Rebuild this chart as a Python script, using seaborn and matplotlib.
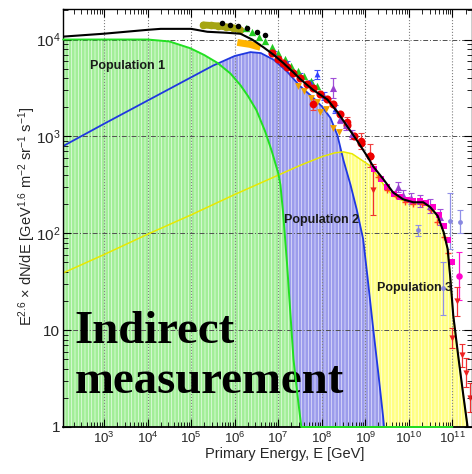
import numpy as np
import matplotlib
matplotlib.use("Agg")
import matplotlib.pyplot as plt
from matplotlib.ticker import LogLocator, FixedLocator, FuncFormatter, NullFormatter
import seaborn as sns

# ---- model populations: log10(E/GeV) and log10(E^2.6 dN/dE) ----
pop1_logE = [2.06, 3.0, 4.0, 4.5, 4.98, 5.3, 5.6, 5.9, 6.13, 6.3, 6.5, 6.7, 6.85,
             7.0, 7.05, 7.11, 7.2, 7.35, 7.45, 7.53, 8.0, 9.0, 10.0, 11.0]
pop1_logF = [4.00, 4.00, 4.00, 3.98, 3.91, 3.84, 3.76, 3.65, 3.53, 3.42, 3.27, 3.05, 2.85,
             2.62, 2.50, 2.22, 1.70, 0.70, 0.30, 0.0, 0.0, 0.0, 0.0, 0.0]

pop2_logE = [2.06, 3.0, 4.0, 5.0, 5.5, 6.0, 6.36, 6.6, 6.9, 7.2, 7.5, 7.8, 8.0, 8.2,
             8.36, 8.5, 8.66, 8.8, 8.95, 9.05, 9.18, 9.3, 9.41, 9.47]
pop2_logF = [2.90, 3.13, 3.37, 3.61, 3.73, 3.83, 3.87, 3.86, 3.79, 3.67, 3.52, 3.40, 3.31, 3.19,
             3.01, 2.75, 2.50, 2.25, 1.94, 1.55, 1.02, 0.55, 0.10, -0.2]

pop3_logE = [2.06, 3.0, 4.0, 5.0, 6.0, 7.0, 7.5, 8.0, 8.3, 8.5, 8.7, 8.9, 9.1, 9.3, 9.5,
             9.7, 9.9, 10.1, 10.3, 10.5, 10.66, 10.8, 10.89, 10.95, 11.02, 11.14, 11.25,
             11.34, 11.42]
pop3_logF = [1.59, 1.78, 1.99, 2.19, 2.40, 2.60, 2.70, 2.79, 2.83, 2.84, 2.82, 2.76, 2.70, 2.58, 2.45,
             2.37, 2.33, 2.31, 2.31, 2.27, 2.18, 2.01, 1.84, 1.55, 1.15, 0.71, 0.33,
             0.03, -0.3]

total_logE = [2.06, 3.0, 4.0, 4.3, 5.0, 5.37, 5.8, 6.13, 6.4, 6.66, 6.9, 7.11, 7.35, 7.51,
              7.8, 8.13, 8.36, 8.59, 8.82, 9.05, 9.18, 9.41, 9.64, 9.87, 10.1, 10.33, 10.49,
              10.66, 10.8, 10.89, 10.95, 11.02, 11.14, 11.25, 11.34, 11.42]
total_logF = [4.03, 4.06, 4.10, 4.11, 4.11, 4.08, 4.07, 4.06, 4.00, 3.92, 3.84, 3.76, 3.66, 3.59,
              3.48, 3.38, 3.25, 3.10, 2.95, 2.79, 2.69, 2.56, 2.42, 2.35, 2.32, 2.32, 2.27,
              2.18, 2.01, 1.84, 1.55, 1.15, 0.71, 0.33, 0.03, -0.3]

# ---- measurements ----
olive_logE = [5.28, 5.45, 5.62, 5.80, 5.97, 6.13]
olive_logF = [4.15, 4.145, 4.14, 4.13, 4.12, 4.10]

gold_logE = [6.06, 6.2, 6.35, 6.5, 6.59]
gold_logF = [3.97, 3.96, 3.95, 3.93, 3.92]

black_logE = [5.71, 5.90, 6.08, 6.29, 6.52, 6.70]
black_logF = [4.17, 4.15, 4.14, 4.12, 4.08, 4.05]

greentri_logE = [6.25, 6.4, 6.55, 6.7, 6.85, 7.0, 7.15, 7.3, 7.45, 7.6, 7.75, 7.9]
greentri_logF = [4.12, 4.08, 4.03, 3.98, 3.92, 3.86, 3.80, 3.73, 3.67, 3.62, 3.57, 3.52]

red_logE = [6.85, 7.0, 7.12, 7.21, 7.35, 7.51, 7.65, 7.80, 7.95, 8.13, 8.26, 8.43, 8.59,
            8.75, 8.89, 9.11]
red_logF = [3.86, 3.80, 3.76, 3.72, 3.65, 3.60, 3.54, 3.50, 3.44, 3.39, 3.33, 3.23, 3.12,
            3.00, 2.93, 2.80]

redbar_logE = [7.80, 8.59, 8.89, 9.11]
redbar_logF = [3.33, 3.15, 2.95, 2.80]
redbar_err = [0.06, 0.05, 0.08, 0.12]

blue_logE = [6.9, 7.2, 7.5, 7.75, 7.9, 8.05, 8.3]
blue_logF = [3.86, 3.76, 3.62, 3.55, 3.64, 3.42, 3.28]
blue_err = [0.02, 0.02, 0.03, 0.03, 0.05, 0.04, 0.04]

purple_logE = [8.26, 8.43, 8.55, 8.7, 9.74, 9.87, 10.05, 10.26, 10.49, 10.72]
purple_logF = [3.50, 3.18, 3.12, 3.02, 2.48, 2.40, 2.36, 2.33, 2.28, 2.17]
purple_err = [0.10, 0.04, 0.05, 0.05, 0.05, 0.05, 0.06, 0.06, 0.07, 0.08]

orange_logE = [7.45, 7.6, 7.75, 7.90, 7.97, 8.1, 8.26, 8.4]
orange_logF = [3.52, 3.47, 3.40, 3.35, 3.25, 3.28, 3.09, 3.05]

magenta_logE = [9.2, 9.35, 9.5, 9.65, 9.8, 9.95, 10.1, 10.25, 10.4, 10.55, 10.7, 10.8, 10.9, 11.0]
magenta_logF = [2.66, 2.56, 2.48, 2.41, 2.37, 2.34, 2.33, 2.33, 2.31, 2.27, 2.19, 2.08, 1.93, 1.70]

magbar_logE = [11.14]
magbar_logF = [1.56]
magbar_err = [0.25]

lav_logE = [10.20, 10.79, 10.95, 11.18]
lav_logF = [2.03, 1.43, 2.13, 2.12]
lav_err = [0.06, 0.27, 0.29, 0.12]

redsmall_logE = [9.3, 9.5, 9.7, 9.9, 10.1, 10.3, 10.5, 10.65, 10.8, 10.9]
redsmall_logF = [2.58, 2.45, 2.38, 2.32, 2.30, 2.30, 2.24, 2.12, 1.96, 1.80]

redlim_logE = [9.18, 11.0, 11.1, 11.23, 11.32, 11.41]
redlim_logF = [2.45, 0.92, 1.30, 0.74, 0.56, 0.30]
redlim_err = [0.26, 0.10, 0.15, 0.12, 0.15, 0.15]

pop_labels = ["Population 1", "Population 2", "Population 3"]
pop_label_logE = [3.53, 7.99, 10.13]
pop_label_logF = [3.73, 2.14, 1.43]

x_tick_exp = [3, 4, 5, 6, 7, 8, 9, 10, 11]
y_tick_exp = [0, 1, 2, 3, 4]


def lin(v):
    return np.power(10.0, np.asarray(v, dtype=float))


sns.set_theme(style="ticks")
plt.rcParams["font.family"] = ["Liberation Sans", "DejaVu Sans"]
plt.rcParams["mathtext.fontset"] = "custom"
plt.rcParams["mathtext.rm"] = "Liberation Sans"
plt.rcParams["mathtext.it"] = "Liberation Sans:italic"
plt.rcParams["mathtext.bf"] = "Liberation Sans:bold"
plt.rcParams["hatch.linewidth"] = 0.45

fig = plt.figure(figsize=(4.72, 4.74), dpi=100)
ax = fig.add_axes([63 / 472, 1 - 427 / 474, (472 - 63) / 472, (427 - 9) / 474])
ax.set_xscale("log")
ax.set_yscale("log")
ax.set_xlim(10 ** 2.057, 10 ** 11.45)
ax.set_ylim(1, 10 ** 4.315)
ax.set_axisbelow(False)

# shaded population areas (pop3 underneath, pop1 on top); fine light stripes over each face
fills = [(pop3_logE, pop3_logF, "#ffff84", "#fffff0"),
         (pop2_logE, pop2_logF, "#9c9cec", "#eeeeff"),
         (pop1_logE, pop1_logF, "#a2ee98", "#f0fff0")]
for i, (le, lf, face, stripe) in enumerate(fills):
    ax.fill_between(lin(le), lin(lf), 0.1, facecolor=face, edgecolor=stripe,
                    hatch="|||||", linewidth=0, zorder=1 + i * 0.1)

# grid
ax.grid(which="major", axis="x", color="#808080", linestyle=":", linewidth=0.8)
ax.grid(which="major", axis="y", color="#505050", linestyle=(0, (5, 2, 1, 2)), linewidth=0.7)

# population curves
sns.lineplot(x=lin(pop1_logE), y=lin(pop1_logF), ax=ax, color="#22e022", lw=1.4,
             sort=False, estimator=None, zorder=9.5, clip_on=False)
sns.lineplot(x=lin(pop2_logE), y=lin(pop2_logF), ax=ax, color="#2038e0", lw=1.3,
             sort=False, estimator=None, zorder=3)
sns.lineplot(x=lin(pop3_logE), y=lin(pop3_logF), ax=ax, color="#e8e800", lw=1.1,
             sort=False, estimator=None, zorder=3.2)


def bars(le, lf, err, color, z=4):
    E, F = lin(le), lin(lf)
    e = np.asarray(err)
    ax.errorbar(E, F, yerr=[F - F * 10 ** -e, F * 10 ** e - F], fmt="none",
                ecolor=color, elinewidth=0.9, capsize=2, capthick=0.8, zorder=z)


# measurements
ax.plot(lin(olive_logE), lin(olive_logF), color="#a5a512", lw=5, solid_capstyle="round", zorder=4)
ax.plot(lin(gold_logE), lin(gold_logF), color="#ffb400", lw=5, solid_capstyle="butt", zorder=4)
sns.scatterplot(x=lin(olive_logE), y=lin(olive_logF), ax=ax, color="#a5a512", s=30, linewidth=0, zorder=4)

bars(blue_logE, blue_logF, blue_err, "#4050ff")
bars(purple_logE, purple_logF, purple_err, "#a050d8")
bars(lav_logE, lav_logF, lav_err, "#9090e8")
bars(magbar_logE, magbar_logF, magbar_err, "#ff10d0")
bars(redbar_logE, redbar_logF, redbar_err, "#f04040")
bars(redlim_logE, redlim_logF, redlim_err, "#f03030")

sns.scatterplot(x=lin(greentri_logE), y=lin(greentri_logF), ax=ax, color="#22cc22", marker="^",
                s=28, linewidth=0, zorder=5)
sns.scatterplot(x=lin(orange_logE), y=lin(orange_logF), ax=ax, color="#f0a000", marker="v",
                s=24, linewidth=0, zorder=5)
sns.scatterplot(x=lin(blue_logE), y=lin(blue_logF), ax=ax, color="#3040ff", marker="^",
                s=18, linewidth=0, zorder=5)
sns.scatterplot(x=lin(red_logE), y=lin(red_logF), ax=ax, color="#ee0000", marker="o",
                s=34, linewidth=0, zorder=5)
sns.scatterplot(x=lin(redbar_logE), y=lin(redbar_logF), ax=ax, color="#ee0000", marker="o",
                s=30, linewidth=0, zorder=5)
sns.scatterplot(x=lin(purple_logE), y=lin(purple_logF), ax=ax, color="#9a40d0", marker="^",
                s=26, linewidth=0, zorder=5)
sns.scatterplot(x=lin(magenta_logE), y=lin(magenta_logF), ax=ax, color="#ff00cc", marker="s",
                s=16, linewidth=0, zorder=5)
sns.scatterplot(x=lin(redsmall_logE), y=lin(redsmall_logF), ax=ax, color="#ff4020", marker="+",
                s=20, linewidth=1.0, zorder=5)
sns.scatterplot(x=lin(lav_logE), y=lin(lav_logF), ax=ax, color="#8888e0", marker="o",
                s=12, linewidth=0, zorder=5)
sns.scatterplot(x=lin(magbar_logE), y=lin(magbar_logF), ax=ax, color="#ff00cc", marker="o",
                s=22, linewidth=0, zorder=5)
sns.scatterplot(x=lin(redlim_logE), y=lin(redlim_logF), ax=ax, color="#ee2020", marker="v",
                s=20, linewidth=0, zorder=5)
sns.scatterplot(x=lin(black_logE), y=lin(black_logF), ax=ax, color="black", marker="o",
                s=16, linewidth=0, zorder=5.5)

# total flux
sns.lineplot(x=lin(total_logE), y=lin(total_logF), ax=ax, color="black", lw=1.5,
             sort=False, estimator=None, zorder=6)

for name, le, lf in zip(pop_labels, pop_label_logE, pop_label_logF):
    ax.text(10 ** le, 10 ** lf, name, ha="center", va="center", fontsize=9,
            fontweight="bold", color="#1a1a1a", zorder=7)

ax.text(0.029, 0.202, "Indirect", transform=ax.transAxes, fontsize=33.7,
        fontweight="bold", family="Liberation Serif", color="black", va="baseline", zorder=8)
ax.text(0.029, 0.082, "measurement", transform=ax.transAxes, fontsize=33.7,
        fontweight="bold", family="Liberation Serif", color="black", va="baseline", zorder=8)

# axes styling
ax.xaxis.set_major_locator(FixedLocator(lin(x_tick_exp)))
ax.xaxis.set_minor_locator(LogLocator(base=10, subs=np.arange(2, 10), numticks=100))
ax.xaxis.set_minor_formatter(NullFormatter())
ax.yaxis.set_major_locator(FixedLocator(lin(y_tick_exp)))
ax.yaxis.set_minor_locator(LogLocator(base=10, subs=np.arange(2, 10), numticks=100))
ax.yaxis.set_minor_formatter(NullFormatter())


def xfmt(v, pos):
    return r"$\mathdefault{10^{%d}}$" % int(round(np.log10(v)))


def yfmt(v, pos):
    n = int(round(np.log10(v)))
    if n == 0:
        return "1"
    if n == 1:
        return "10"
    return r"$\mathdefault{10^{%d}}$" % n


ax.xaxis.set_major_formatter(FuncFormatter(xfmt))
ax.yaxis.set_major_formatter(FuncFormatter(yfmt))
ax.tick_params(which="both", direction="in", top=True, right=True, color="black")
ax.tick_params(which="major", length=6, width=0.8)
ax.tick_params(which="minor", length=3.5, width=0.6)
ax.tick_params(axis="x", labelsize=9.5, pad=3)
ax.tick_params(axis="y", labelsize=11, pad=2)
for s in ax.spines.values():
    s.set_color("black")
    s.set_linewidth(1.0)
    s.set_zorder(9)
ax.spines["bottom"].set_linewidth(1.3)

ax.set_xlabel("Primary Energy, E [GeV]", fontsize=10.5)
ax.set_ylabel(r"E$^{2.6}$ × dN/dE [GeV$^{1.6}$ m$^{-2}$ sr$^{-1}$ s$^{-1}$]", fontsize=10.5)
ax.xaxis.set_label_coords(0.543, -0.047)
ax.yaxis.set_label_coords(-0.062, 0.505)

fig.savefig("out.png", dpi=100)
